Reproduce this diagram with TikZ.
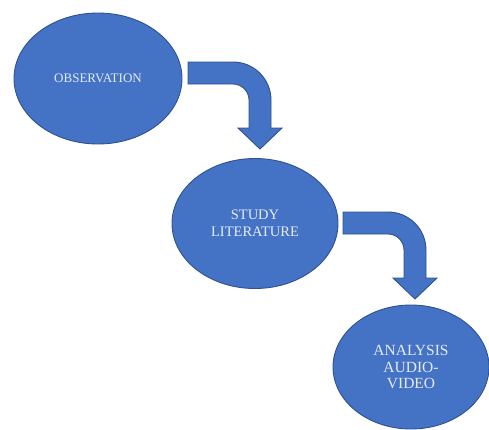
\documentclass[tikz,border=0pt]{standalone}
\usepackage{fontspec}
\setmainfont{Liberation Serif}
\usetikzlibrary{shapes.geometric}
\definecolor{blobfill}{HTML}{4472C4}
\definecolor{blobline}{HTML}{2F528F}
\definecolor{blobtext}{HTML}{E6ECF7}
\tikzset{
  blob/.style={ellipse, fill=blobfill, draw=blobline, line width=0.9pt,
    text=blobtext, align=center, inner sep=0pt},
  bentarrow/.pic={
    \path[fill=blobfill, draw=blobline, line width=0.9pt, line join=miter]
      (0,0) -- (45,0) .. controls (66,0) and (83,17) .. (83,38)
      -- (83,66) -- (94,66) -- (72,87) -- (50,66) -- (61,66) -- (61,38)
      .. controls (61,29.2) and (53.8,22) .. (45,22) -- (0,22) -- cycle;
  }
}
\begin{document}
\begin{tikzpicture}[x=1pt, y=-1pt]
\useasboundingbox (0,0) rectangle (489,429);
\node[blob, minimum width=168pt, minimum height=131pt,
  font=\fontsize{13}{15}\selectfont] (obs) at (98,78.5) {OBSERVATION};
\node[blob, minimum width=166pt, minimum height=130pt,
  font=\fontsize{14.5}{17.5}\selectfont] (lit) at (255,223.5) {STUDY\\[-1pt]LITERATURE};
\node[blob, minimum width=156pt, minimum height=124pt,
  font=\fontsize{15.5}{16.5}\selectfont] (ana) at (411,367) {ANALYSIS\\AUDIO-\\VIDEO};
\coordinate (a1) at (188,62);
\coordinate (a2) at (343,212);
\pic at (a1) {bentarrow};
\pic at (a2) {bentarrow};
\end{tikzpicture}
\end{document}
